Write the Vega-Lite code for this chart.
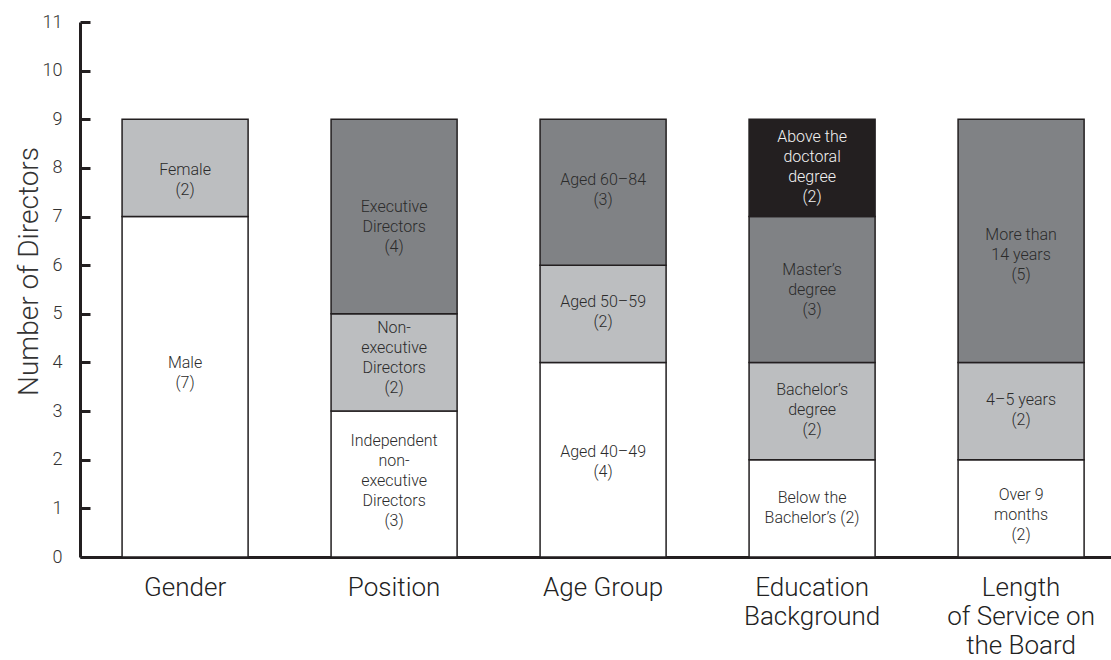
{
  "$schema": "https://vega.github.io/schema/vega-lite/v6.json",
  "width": 1031,
  "height": 535,
  "autosize": {"type": "none"},
  "padding": {"left": 80, "top": 22, "right": 0, "bottom": 103},
  "background": "white",
  "config": {
    "view": {"stroke": null},
    "font": "Roboto"
  },
  "data": {
    "values": [
      {"category": "Gender", "tier": 1, "count": 7, "label": "Male\n(7)", "labelAt": 3.98},
      {"category": "Gender", "tier": 2, "count": 2, "label": "Female\n(2)", "labelAt": 7.96},
      {"category": "Position", "tier": 1, "count": 3, "label": "Independent\nnon-\nexecutive\nDirectors\n(3)", "labelAt": 2.39},
      {"category": "Position", "tier": 2, "count": 2, "label": "Non-\nexecutive\nDirectors\n(2)", "labelAt": 4.71},
      {"category": "Position", "tier": 3, "count": 4, "label": "Executive\nDirectors\n(4)", "labelAt": 7.2},
      {"category": "Age Group", "tier": 1, "count": 4, "label": "Aged 40–49\n(4)", "labelAt": 2.16},
      {"category": "Age Group", "tier": 2, "count": 2, "label": "Aged 50–59\n(2)", "labelAt": 5.25},
      {"category": "Age Group", "tier": 3, "count": 3, "label": "Aged 60–84\n(3)", "labelAt": 7.76},
      {"category": "Education Background", "tier": 1, "count": 2, "label": "Below the\nBachelor’s (2)", "labelAt": 1.21},
      {"category": "Education Background", "tier": 2, "count": 2, "label": "Bachelor’s\ndegree\n(2)", "labelAt": 3.44},
      {"category": "Education Background", "tier": 3, "count": 3, "label": "Master’s\ndegree\n(3)", "labelAt": 5.91},
      {"category": "Education Background", "tier": 4, "count": 2, "label": "Above the\ndoctoral\ndegree\n(2)", "labelAt": 8.64},
      {"category": "Length of Service on the Board", "tier": 1, "count": 2, "label": "Over 9\nmonths\n(2)", "labelAt": 1.28},
      {"category": "Length of Service on the Board", "tier": 2, "count": 2, "label": "4–5 years\n(2)", "labelAt": 3.23},
      {"category": "Length of Service on the Board", "tier": 3, "count": 5, "label": "More than\n14 years\n(5)", "labelAt": 6.63}
    ]
  },
  "encoding": {
    "x": {
      "field": "category",
      "type": "nominal",
      "sort": ["Gender", "Position", "Age Group", "Education Background", "Length of Service on the Board"],
      "scale": {"paddingInner": 0.397, "paddingOuter": 0.165, "align": 0.61},
      "axis": {
        "title": null,
        "labelAngle": 0,
        "ticks": false,
        "domainWidth": 3,
        "domainColor": "#231f20",
        "labelFont": "Roboto",
        "labelFontWeight": 300,
        "labelFontSize": 26,
        "labelColor": "#222222",
        "labelLineHeight": 29,
        "labelPadding": 17,
        "labelBaseline": "top",
        "labelExpr": "datum.value == 'Education Background' ? ['Education', 'Background'] : datum.value == 'Length of Service on the Board' ? ['Length', 'of Service on', 'the Board'] : datum.value"
      }
    }
  },
  "layer": [
    {
      "mark": {"type": "bar", "stroke": "#231f20", "strokeWidth": 1.5},
      "encoding": {
        "y": {
          "field": "count",
          "type": "quantitative",
          "stack": "zero",
          "scale": {"domain": [0, 11], "nice": false},
          "axis": {
            "title": "Number of Directors",
            "values": [0, 1, 2, 3, 4, 5, 6, 7, 8, 9, 10, 11],
            "grid": false,
            "domainWidth": 3,
            "domainColor": "#231f20",
            "tickWidth": 3,
            "tickColor": "#231f20",
            "tickSize": -10,
            "labelFont": "Roboto",
            "labelFontWeight": 300,
            "labelFontSize": 18,
            "labelColor": "#333333",
            "labelPadding": 28,
            "titleFont": "Roboto",
            "titleFontWeight": 300,
            "titleFontSize": 28,
            "titleColor": "#333333",
            "titleAngle": 270,
            "titleAlign": "center",
            "titleBaseline": "alphabetic",
            "titleX": -43,
            "titleY": 249
          }
        },
        "order": {"field": "tier", "type": "quantitative"},
        "color": {
          "field": "tier",
          "type": "ordinal",
          "scale": {"domain": [1, 2, 3, 4], "range": ["#ffffff", "#bcbec0", "#808285", "#231f20"]},
          "legend": null
        }
      }
    },
    {
      "mark": {"type": "text", "lineBreak": "\n", "fontSize": 16, "fontWeight": 300, "font": "Roboto", "lineHeight": 20, "align": "center", "baseline": "middle"},
      "encoding": {
        "y": {"field": "labelAt", "type": "quantitative"},
        "text": {"field": "label"},
        "color": {
          "condition": {"test": "datum.tier == 4", "value": "#f2f2f2"},
          "value": "#2b2b2b"
        }
      }
    }
  ]
}
